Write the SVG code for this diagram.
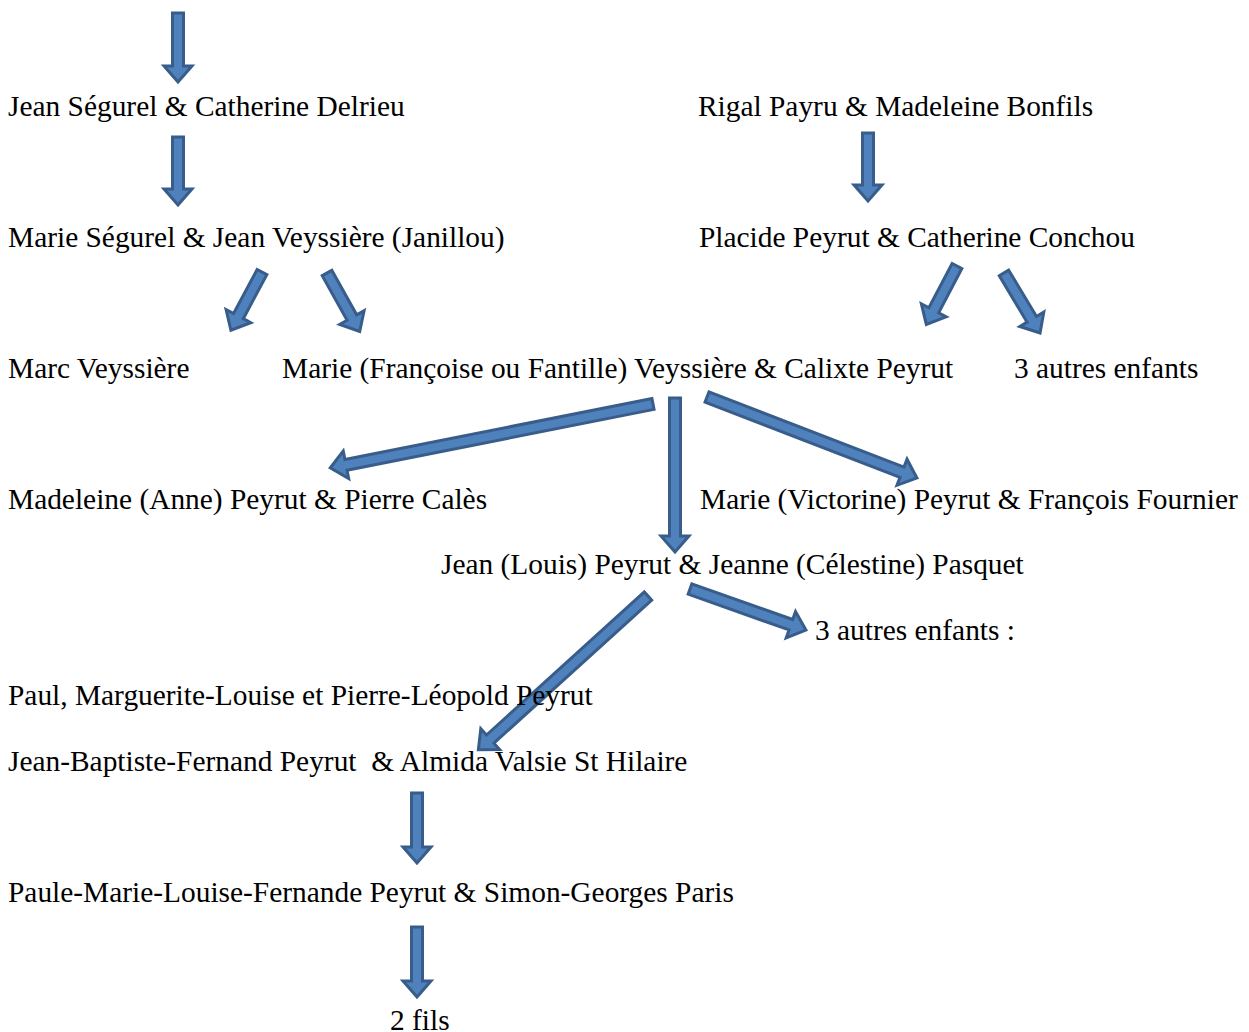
<svg xmlns="http://www.w3.org/2000/svg" width="1249" height="1032" viewBox="0 0 1249 1032">
<style>
  text { font-family: "Liberation Serif", "Times New Roman", serif; font-size: 29.4px; fill: #000; white-space: pre; }
  .arr { fill: #4F81BD; stroke: #385D8A; stroke-width: 3; stroke-linejoin: miter; }
</style>
<rect width="1249" height="1032" fill="#fff"/>
<g id="connectors">
  <polygon class="arr" transform="translate(178,13) rotate(90)" points="0,-5.5 53,-5.5 53,-14 69,0 53,14 53,5.5 0,5.5"/>
  <polygon class="arr" transform="translate(178,137) rotate(90)" points="0,-5.5 52,-5.5 52,-14 68,0 52,14 52,5.5 0,5.5"/>
  <polygon class="arr" transform="translate(868,133) rotate(90)" points="0,-5.5 52,-5.5 52,-14 68,0 52,14 52,5.5 0,5.5"/>
  <polygon class="arr" transform="translate(262,272) rotate(118.1)" points="0,-5.5 50,-5.5 50,-14 66,0 50,14 50,5.5 0,5.5"/>
  <polygon class="arr" transform="translate(327,273) rotate(60.8)" points="0,-5.5 51,-5.5 51,-14 67,0 51,14 51,5.5 0,5.5"/>
  <polygon class="arr" transform="translate(957,266) rotate(117.7)" points="0,-5.5 50,-5.5 50,-14 66,0 50,14 50,5.5 0,5.5"/>
  <polygon class="arr" transform="translate(1004,273) rotate(59)" points="0,-5.5 54,-5.5 54,-14 70,0 54,14 54,5.5 0,5.5"/>
  <polygon class="arr" transform="translate(653,404) rotate(168.8)" points="0,-5.5 313,-5.5 313,-14 329,0 313,14 313,5.5 0,5.5"/>
  <polygon class="arr" transform="translate(675,398) rotate(90)" points="0,-5.5 138,-5.5 138,-14 154,0 138,14 138,5.5 0,5.5"/>
  <polygon class="arr" transform="translate(707,397) rotate(21.1)" points="0,-5.5 209,-5.5 209,-14 225,0 209,14 209,5.5 0,5.5"/>
  <polygon class="arr" transform="translate(648,596) rotate(137.8)" points="0,-5.5 213,-5.5 213,-14 229,0 213,14 213,5.5 0,5.5"/>
  <polygon class="arr" transform="translate(690,589) rotate(19.5)" points="0,-5.5 107,-5.5 107,-14 123,0 107,14 107,5.5 0,5.5"/>
  <polygon class="arr" transform="translate(417,793) rotate(90)" points="0,-5.5 54,-5.5 54,-14 70,0 54,14 54,5.5 0,5.5"/>
  <polygon class="arr" transform="translate(417,927) rotate(90)" points="0,-5.5 54,-5.5 54,-14 70,0 54,14 54,5.5 0,5.5"/>
</g>
<g id="n1"><text x="8" y="116">Jean Ségurel &amp; Catherine Delrieu</text></g>
<g id="n2"><text x="698" y="116">Rigal Payru &amp; Madeleine Bonfils</text></g>
<g id="n3"><text x="8" y="247">Marie Ségurel &amp; Jean Veyssière (Janillou)</text></g>
<g id="n4"><text x="699" y="247">Placide Peyrut &amp; Catherine Conchou</text></g>
<g id="n5"><text x="8" y="378">Marc Veyssière</text></g>
<g id="n6"><text x="282" y="378">Marie (Françoise ou Fantille) Veyssière &amp; Calixte Peyrut</text></g>
<g id="n7"><text x="1014" y="378">3 autres enfants</text></g>
<g id="n8"><text x="8" y="509">Madeleine (Anne) Peyrut &amp; Pierre Calès</text></g>
<g id="n9"><text x="700" y="509">Marie (Victorine) Peyrut &amp; François Fournier</text></g>
<g id="n10"><text x="441" y="574">Jean (Louis) Peyrut &amp; Jeanne (Célestine) Pasquet</text></g>
<g id="n11"><text x="815" y="640">3 autres enfants :</text></g>
<g id="n12"><text x="8" y="705">Paul, Marguerite-Louise et Pierre-Léopold Peyrut</text></g>
<g id="n13"><text x="8" y="771">Jean-Baptiste-Fernand Peyrut  &amp; Almida Valsie St Hilaire</text></g>
<g id="n14"><text x="8" y="902">Paule-Marie-Louise-Fernande Peyrut &amp; Simon-Georges Paris</text></g>
<g id="n15"><text x="390" y="1030">2 fils</text></g>
</svg>
